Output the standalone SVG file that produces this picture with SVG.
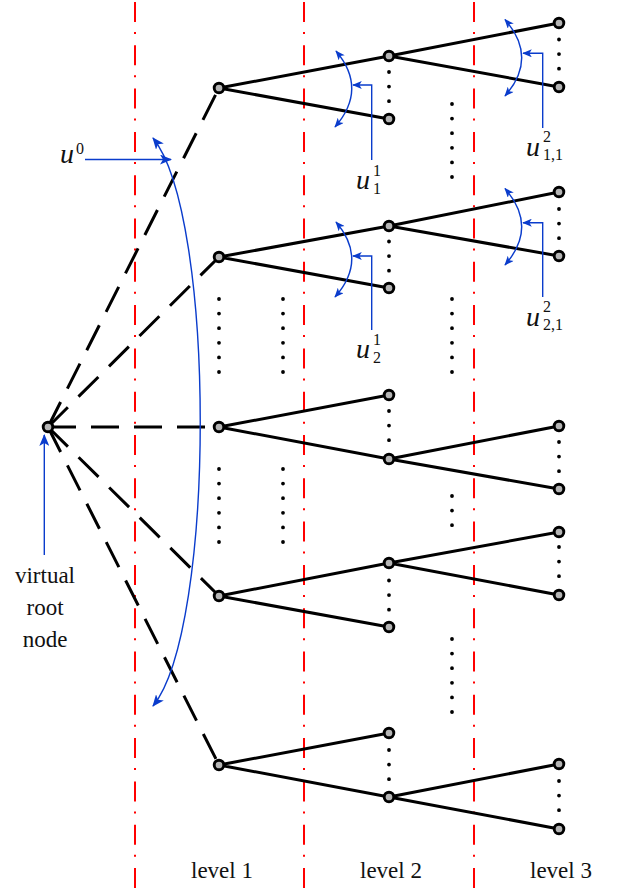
<svg xmlns="http://www.w3.org/2000/svg" width="641" height="890" viewBox="0 0 641 890">
<style>
.guide{stroke:#ff0000;stroke-width:2;stroke-dasharray:20 10 2 11.3;fill:none}
.dash{stroke:#000;stroke-width:3;stroke-dasharray:28 15;fill:none}
.edge{stroke:#000;stroke-width:3;fill:none}
.dots{stroke:#000;stroke-width:3.8;stroke-linecap:round;fill:none}
.blue{stroke:#0a3ccc;stroke-width:1.4;fill:none}
.node circle{fill:#b5b5b5;stroke:#000;stroke-width:2.9}
.txt{font-family:"Liberation Serif","Times New Roman",serif;font-size:23px;fill:#111}
.mu{font-family:"Liberation Serif","DejaVu Serif",serif;font-style:italic;font-size:28px;fill:#111}
.ms{font-family:"Liberation Serif","DejaVu Serif",serif;font-size:16px;fill:#111}
</style>
<defs>
<marker id="ah" viewBox="0 0 12 10" refX="11" refY="5" markerWidth="12" markerHeight="10" markerUnits="userSpaceOnUse" orient="auto-start-reverse">
<path d="M0,0 L12,5 L0,10 L3,5 z" fill="#0a3ccc"/>
</marker>
<marker id="ahs" viewBox="0 0 12 10" refX="11" refY="5" markerWidth="10" markerHeight="8" markerUnits="userSpaceOnUse" orient="auto-start-reverse">
<path d="M0,0 L12,5 L0,10 L3,5 z" fill="#0a3ccc"/>
</marker>
</defs>
<g id="guides">
<line class="guide" x1="135" y1="2" x2="135" y2="890"/>
<line class="guide" x1="304" y1="2" x2="304" y2="890"/>
<line class="guide" x1="474" y1="2" x2="474" y2="890"/>
</g>
<g id="connectors">
<line class="dash" x1="48" y1="427" x2="219" y2="88"/>
<line class="dash" x1="48" y1="427" x2="219" y2="257"/>
<line class="dash" x1="48" y1="427" x2="219" y2="427"/>
<line class="dash" x1="48" y1="427" x2="219" y2="596"/>
<line class="dash" x1="48" y1="427" x2="219" y2="765"/>
<path class="edge" d="M219,88 L389,56 M219,88 L389,119 M389,56 L559,23 M389,56 L559,87"/>
<path class="edge" d="M219,257 L389,226 M219,257 L389,288 M389,226 L559,192 M389,226 L559,256"/>
<path class="edge" d="M219,427 L389,395 M219,427 L389,459 M389,459 L559,426 M389,459 L559,489"/>
<path class="edge" d="M219,596 L389,563 M219,596 L389,627 M389,563 L559,532 M389,563 L559,595"/>
<path class="edge" d="M219,765 L389,733 M219,765 L389,797 M389,797 L559,764 M389,797 L559,829"/>
</g>
<g id="ellipsis" class="dots" stroke-dasharray="0 14.6">
<path d="M219,299 V372.2 M283,299 V372.2 M219,469 V542.2 M283,469 V542.2"/>
<path d="M452,104 V177.2 M452,299 V372.2 M452,639 V712.2 M452,496 V525.4"/>
<path d="M389,72 V101.4 M389,241.5 V270.9 M389,411 V440.4 M389,580.5 V609.9 M389,750 V779.4"/>
<path d="M559,39.5 V68.9 M559,209 V238.4 M559,442 V471.4 M559,547 V576.4 M559,781 V810.4"/>
</g>
<g id="nodes">
<g id="root" class="node"><circle cx="48" cy="427" r="4.8"/></g>
<g id="n1a" class="node"><circle cx="219" cy="88" r="4.8"/></g>
<g id="n1b" class="node"><circle cx="219" cy="257" r="4.8"/></g>
<g id="n1c" class="node"><circle cx="219" cy="427" r="4.8"/></g>
<g id="n1d" class="node"><circle cx="219" cy="596" r="4.8"/></g>
<g id="n1e" class="node"><circle cx="219" cy="765" r="4.8"/></g>
<g id="n2a" class="node"><circle cx="389" cy="56" r="4.8"/></g>
<g id="n2b" class="node"><circle cx="389" cy="119" r="4.8"/></g>
<g id="n2c" class="node"><circle cx="389" cy="226" r="4.8"/></g>
<g id="n2d" class="node"><circle cx="389" cy="288" r="4.8"/></g>
<g id="n2e" class="node"><circle cx="389" cy="395" r="4.8"/></g>
<g id="n2f" class="node"><circle cx="389" cy="459" r="4.8"/></g>
<g id="n2g" class="node"><circle cx="389" cy="563" r="4.8"/></g>
<g id="n2h" class="node"><circle cx="389" cy="627" r="4.8"/></g>
<g id="n2i" class="node"><circle cx="389" cy="733" r="4.8"/></g>
<g id="n2j" class="node"><circle cx="389" cy="797" r="4.8"/></g>
<g id="n3a" class="node"><circle cx="559" cy="23" r="4.8"/></g>
<g id="n3b" class="node"><circle cx="559" cy="87" r="4.8"/></g>
<g id="n3c" class="node"><circle cx="559" cy="192" r="4.8"/></g>
<g id="n3d" class="node"><circle cx="559" cy="256" r="4.8"/></g>
<g id="n3e" class="node"><circle cx="559" cy="426" r="4.8"/></g>
<g id="n3f" class="node"><circle cx="559" cy="489" r="4.8"/></g>
<g id="n3g" class="node"><circle cx="559" cy="532" r="4.8"/></g>
<g id="n3h" class="node"><circle cx="559" cy="595" r="4.8"/></g>
<g id="n3i" class="node"><circle cx="559" cy="764" r="4.8"/></g>
<g id="n3j" class="node"><circle cx="559" cy="829" r="4.8"/></g>
</g>
<g id="annotations">
<path class="blue" d="M153,138 C216,216 216,628 153,706" marker-start="url(#ah)" marker-end="url(#ah)"/>
<line class="blue" x1="85" y1="159.5" x2="171" y2="159.5" marker-end="url(#ah)"/>
<line class="blue" x1="44.3" y1="555" x2="44.3" y2="435" marker-end="url(#ah)"/>
<path class="blue" d="M336,51 Q368,89 335,127" marker-start="url(#ahs)" marker-end="url(#ahs)"/>
<path class="blue" d="M371.7,160 V85 H353" marker-end="url(#ahs)"/>
<path class="blue" d="M336,222 Q368,259.5 335,297" marker-start="url(#ahs)" marker-end="url(#ahs)"/>
<path class="blue" d="M371.7,330 V256 H353" marker-end="url(#ahs)"/>
<path class="blue" d="M505,19.5 Q538.4,57.7 505,96" marker-start="url(#ahs)" marker-end="url(#ahs)"/>
<path class="blue" d="M542.7,128 V53.3 H523" marker-end="url(#ahs)"/>
<path class="blue" d="M505,188.5 Q538.4,226.7 505,265" marker-start="url(#ahs)" marker-end="url(#ahs)"/>
<path class="blue" d="M542.7,297 V222.7 H523" marker-end="url(#ahs)"/>
</g>
<g id="labels">
<text class="mu" x="60" y="163">u</text><text class="ms" x="76" y="154">0</text>
<text class="mu" x="356" y="189">u</text><text class="ms" x="373" y="176">1</text><text class="ms" x="373" y="194">1</text>
<text class="mu" x="356" y="358">u</text><text class="ms" x="373" y="345">1</text><text class="ms" x="373" y="363">2</text>
<text class="mu" x="526" y="156">u</text><text class="ms" x="543" y="142">2</text><text class="ms" x="543" y="160">1,1</text>
<text class="mu" x="526" y="326">u</text><text class="ms" x="543" y="312">2</text><text class="ms" x="543" y="330">2,1</text>
<text class="txt" x="45" y="583" text-anchor="middle">virtual</text>
<text class="txt" x="45" y="615" text-anchor="middle">root</text>
<text class="txt" x="45" y="647" text-anchor="middle">node</text>
<text class="txt" x="222" y="878" text-anchor="middle">level 1</text>
<text class="txt" x="391" y="878" text-anchor="middle">level 2</text>
<text class="txt" x="561" y="878" text-anchor="middle">level 3</text>
</g>
</svg>
